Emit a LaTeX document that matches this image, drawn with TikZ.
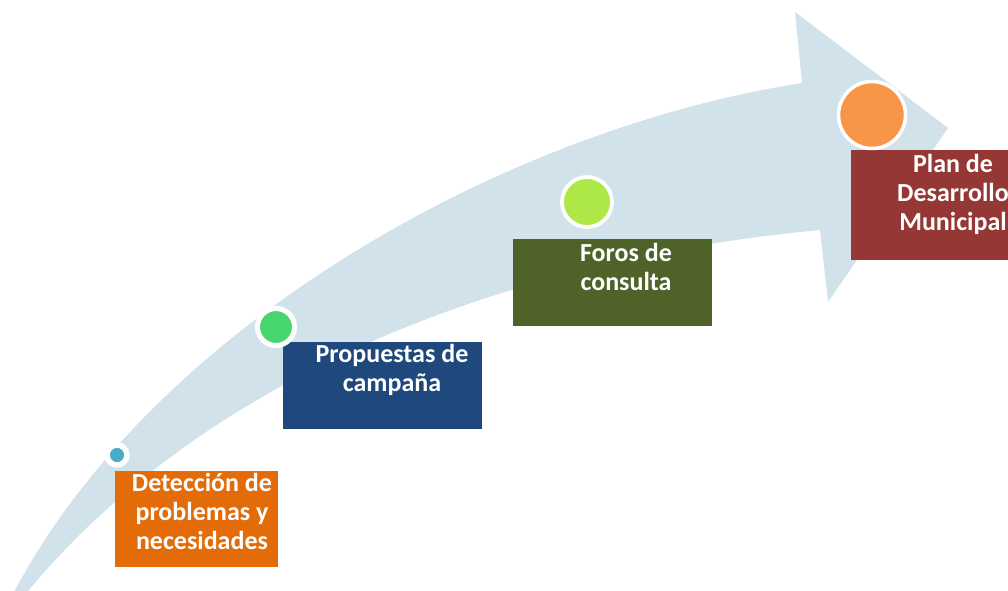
\documentclass[tikz,border=0pt]{standalone}
\usepackage{fontspec}
\setmainfont{Carlito}
\usetikzlibrary{positioning}

\definecolor{arrowbg}{HTML}{D2E2EA}
\definecolor{detdot}{HTML}{4BACC6}
\definecolor{propdot}{HTML}{47D56D}
\definecolor{forodot}{HTML}{ADE846}
\definecolor{plandot}{HTML}{F79646}
\definecolor{detbox}{HTML}{E36C09}
\definecolor{propbox}{HTML}{1F497D}
\definecolor{forobox}{HTML}{4F6228}
\definecolor{planbox}{HTML}{953735}

\tikzset{
  stagebox/.style={fill=#1, inner sep=0pt, anchor=north west},
  stagedot/.style={circle, fill=#1, draw=white, inner sep=0pt},
  stagetxt/.style={text=white, align=center, anchor=north, inner sep=0pt,
    font=\fontsize{26}{29}\selectfont\bfseries},
}

\begin{document}
\begin{tikzpicture}[x=1pt, y=-1pt]
  \useasboundingbox (0,0) rectangle (1008,590);

  % big curved arrow
  \fill[arrowbg] (12,596) .. controls (150,330) and (500,130) .. (802,83)
    -- (795,12) -- (948,128) -- (828,302) -- (820,230)
    .. controls (500,260) and (200,380) .. (24,596) -- cycle;

  % boxes
  \node[stagebox=detbox, minimum width=163pt, minimum height=96pt] (det) at (115,471) {};
  \node[stagebox=propbox, minimum width=199pt, minimum height=87pt] (prop) at (283,342) {};
  \node[stagebox=forobox, minimum width=199pt, minimum height=87pt] (foro) at (513,239) {};
  \node[stagebox=planbox, minimum width=170pt, minimum height=110pt] (plan) at (851,150) {};

  % dots
  \node[stagedot=detdot, minimum size=20pt, line width=5.4pt] (detc) at (117,455) {};
  \node[stagedot=propdot, minimum size=37pt, line width=5pt] (propc) at (276,327) {};
  \node[stagedot=forodot, minimum size=50pt, line width=3.8pt] (foroc) at (587,202) {};
  \node[stagedot=plandot, minimum size=67pt, line width=3.5pt] (planc) at (872,115) {};

  % labels
  \node[stagetxt] (dett) at (202,473) {Detección de\\problemas y\\necesidades};
  \node[stagetxt] (propt) at (392,344.5) {Propuestas de\\campaña};
  \node[stagetxt] (forot) at (626,243.5) {Foros de\\consulta};
  \node[stagetxt] (plant) at (953,154.5) {Plan de\\Desarrollo\\Municipal};
\end{tikzpicture}
\end{document}
